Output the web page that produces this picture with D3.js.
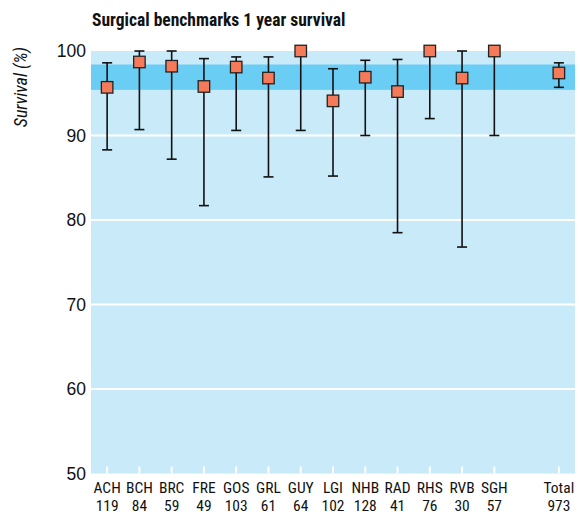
<!DOCTYPE html>
<html><head><meta charset="utf-8">
<script src="https://cdn.jsdelivr.net/npm/d3@7"></script>
<style>
body{margin:0;background:#fff;}
text{font-family:"Liberation Sans Narrow","Arial Narrow","Roboto Condensed",sans-serif;}
</style></head>
<body><svg id="c" width="580" height="515"></svg>
<script>
const categories = ["ACH","BCH","BRC","FRE","GOS","GRL","GUY","LGI","NHB","RAD","RHS","RVB","SGH","Total"];
const counts     = [119, 84, 59, 49, 103, 61, 64, 102, 128, 41, 76, 30, 57, 973];
const survival   = [95.7, 98.7, 98.2, 95.8, 98.1, 96.8, 100, 94.1, 96.9, 95.2, 100, 96.8, 100, 97.4];
const upperCI    = [98.6, 100, 100, 99.1, 99.3, 99.3, 100, 97.9, 98.9, 99.0, 100, 100, 100, 98.6];
const lowerCI    = [88.3, 90.7, 87.2, 81.7, 90.6, 85.1, 90.6, 85.2, 90.0, 78.5, 92.0, 76.8, 90.0, 95.7];
const bandRange  = [95.4, 98.4];
const yTicks     = [50, 60, 70, 80, 90, 100];
const gridValues = [60, 70, 80, 90];

const svg = d3.select("#c");
const L = 91, R = 575, T = 51, B = 473.5;
// one empty slot between SGH and Total
const slots = categories.slice(0, 13).concat(["_gap"], ["Total"]);
const x = d3.scalePoint().domain(slots).range([L, R]).padding(0.5);
const y = d3.scaleLinear().domain([50, 100]).range([B, T]);

// background
svg.append("rect").attr("x", L).attr("y", T).attr("width", R - L).attr("height", B - T).attr("fill", "#c8eaf9");
svg.append("rect").attr("x", L).attr("y", y(bandRange[1])).attr("width", R - L)
  .attr("height", y(bandRange[0]) - y(bandRange[1])).attr("fill", "#6acef4");
// white gridlines
svg.selectAll(".grid").data(gridValues).enter().append("line")
  .attr("x1", L).attr("x2", R).attr("y1", d => y(d)).attr("y2", d => y(d))
  .attr("stroke", "#fff").attr("stroke-width", 2);
// white x ticks
svg.selectAll(".xt").data(categories).enter().append("line")
  .attr("x1", d => x(d)).attr("x2", d => x(d)).attr("y1", B).attr("y2", B - 7)
  .attr("stroke", "#fff").attr("stroke-width", 2);

// y axis labels
const yAxis = d3.axisLeft(y).tickValues(yTicks).tickSize(0).tickPadding(5).tickFormat(d3.format("d"));
const ya = svg.append("g").attr("transform", `translate(${L},0)`).call(yAxis);
ya.select(".domain").remove();
ya.selectAll("text").attr("font-size", 17.5).attr("fill", "#111")
  .style("font-family", '"Liberation Sans Narrow","Arial Narrow",sans-serif');

// x labels
const data = categories.map((c, i) => ({c, n: counts[i], v: survival[i], hi: upperCI[i], lo: lowerCI[i]}));
const xl = svg.append("g");
xl.selectAll(".l1").data(data).enter().append("text")
  .attr("x", d => x(d.c)).attr("y", 493).attr("text-anchor", "middle")
  .attr("font-size", 15.5).attr("fill", "#111").text(d => d.c);
xl.selectAll(".l2").data(data).enter().append("text")
  .attr("x", d => x(d.c)).attr("y", 511).attr("text-anchor", "middle")
  .attr("font-size", 15.5).attr("fill", "#111").text(d => d.n);

// error bars
const eb = svg.append("g").attr("stroke", "#111").attr("stroke-width", 1.6);
eb.selectAll(".v").data(data).enter().append("line")
  .attr("x1", d => x(d.c)).attr("x2", d => x(d.c)).attr("y1", d => y(d.hi)).attr("y2", d => y(d.lo));
eb.selectAll(".ch").data(data.filter(d => d.hi > d.v)).enter().append("line")
  .attr("x1", d => x(d.c) - 5).attr("x2", d => x(d.c) + 5).attr("y1", d => y(d.hi)).attr("y2", d => y(d.hi));
eb.selectAll(".cl").data(data).enter().append("line")
  .attr("x1", d => x(d.c) - 5).attr("x2", d => x(d.c) + 5).attr("y1", d => y(d.lo)).attr("y2", d => y(d.lo));

// markers
const s = 11.5;
svg.selectAll(".m").data(data).enter().append("rect")
  .attr("x", d => x(d.c) - s / 2).attr("y", d => y(d.v) - s / 2).attr("width", s).attr("height", s)
  .attr("fill", "#f47a5a").attr("stroke", "#222").attr("stroke-width", 1.3);

// title
svg.append("text").attr("x", 92).attr("y", 26).attr("font-size", 17.5).attr("font-weight", "bold")
  .attr("fill", "#111").text("Surgical benchmarks 1 year survival");
// y title
svg.append("text").attr("transform", "translate(27,87) rotate(-90)").attr("text-anchor", "middle")
  .attr("font-size", 18).attr("font-style", "italic").attr("fill", "#111").text("Survival (%)");
</script></body></html>
